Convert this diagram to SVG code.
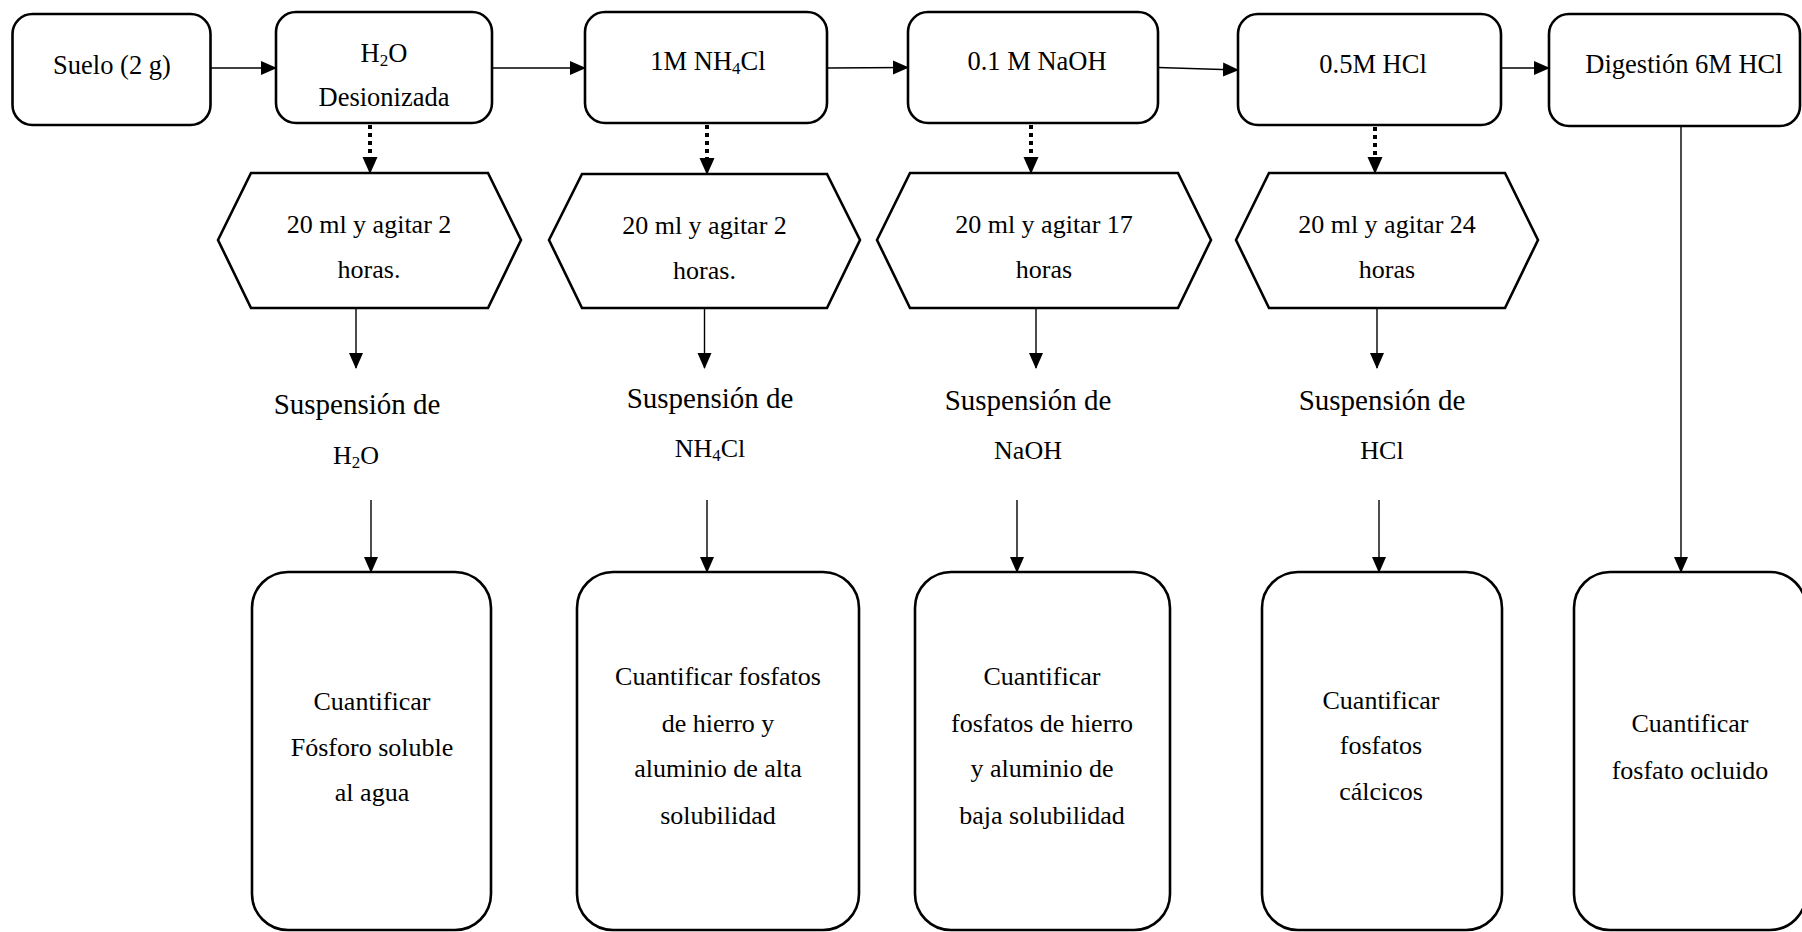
<svg xmlns="http://www.w3.org/2000/svg" width="1802" height="932" viewBox="0 0 1802 932">
<style>
.box{fill:#fff;stroke:#000;stroke-width:2.6}
.con{fill:none;stroke:#000;stroke-width:1.4}
.dot{fill:none;stroke:#000;stroke-width:4;stroke-dasharray:4 4}
text{font-family:"Liberation Serif","Times New Roman",serif;fill:#000;text-anchor:middle}
.t{font-size:26.5px}
.h{font-size:26px}
.s{font-size:29px}
.b{font-size:26px}
.sub{font-size:17px}
</style>
<defs>
<marker id="ah" markerUnits="userSpaceOnUse" markerWidth="16" markerHeight="16" viewBox="0 0 16 16" refX="15" refY="8" orient="auto">
<path d="M0,1 L16,8 L0,15 z" fill="#000"/>
</marker>
<marker id="ahd" markerUnits="userSpaceOnUse" markerWidth="17" markerHeight="16" viewBox="0 0 17 16" refX="0" refY="8" orient="auto">
<path d="M0,0.5 L17,8 L0,15.5 z" fill="#000"/>
</marker>
</defs>
<rect width="1802" height="932" fill="#fff"/>

<g id="connectors">
<line class="con" x1="211" y1="68" x2="276" y2="68" marker-end="url(#ah)"/>
<line class="con" x1="492" y1="68" x2="585" y2="68" marker-end="url(#ah)"/>
<line class="con" x1="827" y1="68" x2="908" y2="67.5" marker-end="url(#ah)"/>
<line class="con" x1="1158" y1="67.5" x2="1238" y2="70" marker-end="url(#ah)"/>
<line class="con" x1="1501" y1="68" x2="1549" y2="68" marker-end="url(#ah)"/>

<line class="dot" x1="370" y1="125" x2="370" y2="157" marker-end="url(#ahd)"/>
<line class="dot" x1="707" y1="125" x2="707" y2="158" marker-end="url(#ahd)"/>
<line class="dot" x1="1031" y1="125" x2="1031" y2="157" marker-end="url(#ahd)"/>
<line class="dot" x1="1375" y1="127" x2="1375" y2="157" marker-end="url(#ahd)"/>

<line class="con" x1="356" y1="308" x2="356" y2="368" marker-end="url(#ah)"/>
<line class="con" x1="704.5" y1="308" x2="704.5" y2="368" marker-end="url(#ah)"/>
<line class="con" x1="1036" y1="308" x2="1036" y2="368" marker-end="url(#ah)"/>
<line class="con" x1="1377" y1="308" x2="1377" y2="368" marker-end="url(#ah)"/>

<line class="con" x1="371" y1="500" x2="371" y2="572" marker-end="url(#ah)"/>
<line class="con" x1="707" y1="500" x2="707" y2="572" marker-end="url(#ah)"/>
<line class="con" x1="1017" y1="500" x2="1017" y2="572" marker-end="url(#ah)"/>
<line class="con" x1="1379" y1="500" x2="1379" y2="572" marker-end="url(#ah)"/>
<line class="con" x1="1681" y1="126" x2="1681" y2="572" marker-end="url(#ah)"/>
</g>

<g id="n-suelo">
<rect class="box" x="12.5" y="14" width="198" height="111" rx="20"/>
<text class="t" x="112" y="74">Suelo (2 g)</text>
</g>
<g id="n-h2o">
<rect class="box" x="276" y="12" width="216" height="111" rx="20"/>
<text class="t" x="384" y="62">H<tspan class="sub" dy="4">2</tspan><tspan dy="-4">O</tspan></text>
<text class="t" x="384" y="106">Desionizada</text>
</g>
<g id="n-nh4cl">
<rect class="box" x="585" y="12" width="242" height="111" rx="20"/>
<text class="t" x="708" y="70">1M NH<tspan class="sub" dy="4">4</tspan><tspan dy="-4">Cl</tspan></text>
</g>
<g id="n-naoh">
<rect class="box" x="908" y="12" width="250" height="111" rx="20"/>
<text class="t" x="1037" y="70">0.1 M NaOH</text>
</g>
<g id="n-hcl">
<rect class="box" x="1238" y="14" width="263" height="111" rx="20"/>
<text class="t" x="1373" y="73">0.5M HCl</text>
</g>
<g id="n-digestion">
<rect class="box" x="1549" y="14" width="251" height="112" rx="20"/>
<text class="t" x="1684" y="73">Digestión 6M HCl</text>
</g>

<g id="h1">
<polygon class="box" points="218,240 251,173 488,173 521,240 488,308 251,308"/>
<text class="h" x="369" y="233">20 ml y agitar 2</text>
<text class="h" x="369" y="278">horas.</text>
</g>
<g id="h2">
<polygon class="box" points="549,240 582,174 827,174 860,240 827,308 582,308"/>
<text class="h" x="704.5" y="234">20 ml y agitar 2</text>
<text class="h" x="704.5" y="279">horas.</text>
</g>
<g id="h3">
<polygon class="box" points="877,240 910,173 1178,173 1211,240 1178,308 910,308"/>
<text class="h" x="1044" y="233">20 ml y agitar 17</text>
<text class="h" x="1044" y="278">horas</text>
</g>
<g id="h4">
<polygon class="box" points="1236,240 1269,173 1505,173 1538,240 1505,308 1269,308"/>
<text class="h" x="1387" y="233">20 ml y agitar 24</text>
<text class="h" x="1387" y="278">horas</text>
</g>

<g id="s1">
<text class="s" x="357" y="414">Suspensión de</text>
<text class="b" x="356" y="464">H<tspan class="sub" dy="4">2</tspan><tspan dy="-4">O</tspan></text>
</g>
<g id="s2">
<text class="s" x="710" y="408">Suspensión de</text>
<text class="b" x="710" y="457">NH<tspan class="sub" dy="4">4</tspan><tspan dy="-4">Cl</tspan></text>
</g>
<g id="s3">
<text class="s" x="1028" y="410">Suspensión de</text>
<text class="b" x="1028" y="459">NaOH</text>
</g>
<g id="s4">
<text class="s" x="1382" y="410">Suspensión de</text>
<text class="b" x="1382" y="459">HCl</text>
</g>

<g id="b1">
<rect class="box" x="252" y="572" width="239" height="358" rx="36"/>
<text class="b" x="372" y="710">Cuantificar</text>
<text class="b" x="372" y="756">Fósforo soluble</text>
<text class="b" x="372" y="801">al agua</text>
</g>
<g id="b2">
<rect class="box" x="577" y="572" width="282" height="358" rx="36"/>
<text class="b" x="718" y="685">Cuantificar fosfatos</text>
<text class="b" x="718" y="732">de hierro y</text>
<text class="b" x="718" y="777">aluminio de alta</text>
<text class="b" x="718" y="824">solubilidad</text>
</g>
<g id="b3">
<rect class="box" x="915" y="572" width="255" height="358" rx="36"/>
<text class="b" x="1042" y="685">Cuantificar</text>
<text class="b" x="1042" y="732">fosfatos de hierro</text>
<text class="b" x="1042" y="777">y aluminio de</text>
<text class="b" x="1042" y="824">baja solubilidad</text>
</g>
<g id="b4">
<rect class="box" x="1262" y="572" width="240" height="358" rx="36"/>
<text class="b" x="1381" y="709">Cuantificar</text>
<text class="b" x="1381" y="754">fosfatos</text>
<text class="b" x="1381" y="800">cálcicos</text>
</g>
<g id="b5">
<rect class="box" x="1574" y="572" width="232" height="358" rx="36"/>
<text class="b" x="1690" y="732">Cuantificar</text>
<text class="b" x="1690" y="779">fosfato ocluido</text>
</g>
</svg>
